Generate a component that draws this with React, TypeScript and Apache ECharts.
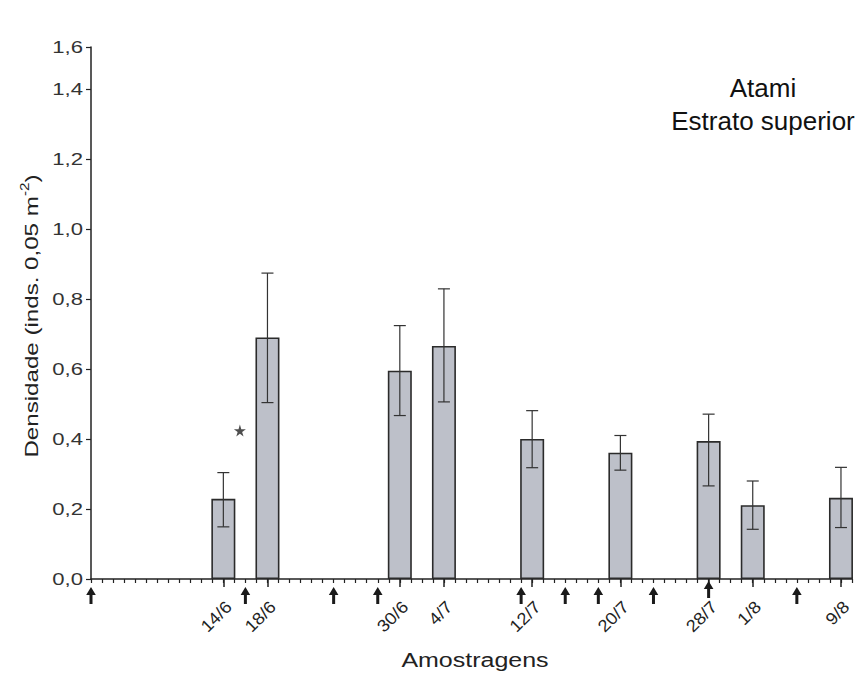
import React, { useEffect, useRef } from "react";
import * as echarts from "echarts";

// Sampling dates (day/month) with mean density and error-bar limits
const SAMPLE_DATES = ["14/6", "18/6", "30/6", "4/7", "12/7", "20/7", "28/7", "1/8", "9/8"];
const MEAN_DENSITY = [0.229, 0.69, 0.595, 0.666, 0.4, 0.361, 0.394, 0.211, 0.232];
const ERR_LOW = [0.149, 0.504, 0.467, 0.506, 0.318, 0.311, 0.266, 0.142, 0.147];
const ERR_HIGH = [0.304, 0.874, 0.724, 0.829, 0.481, 0.41, 0.471, 0.28, 0.319];

// Event markers drawn as arrows under the time axis
const ARROW_DATES = ["2/6", "16/6", "24/6", "28/6", "11/7", "15/7", "18/7", "23/7", "28/7", "5/8"];
const RAISED_ARROWS = ["28/7"];

// Significance mark between the first two samples
const STAR_MARK = { day: 13.5, value: 0.424 };

// Time axis range
const AXIS_START = "2/6";
const AXIS_END = "10/8";

// Density axis ticks (the top of the axis is labelled 1,6)
const Y_TICK_VALUES = [0, 0.2, 0.4, 0.6, 0.8, 1.0, 1.2, 1.4, 1.52];
const Y_TICK_LABELS = ["0,0", "0,2", "0,4", "0,6", "0,8", "1,0", "1,2", "1,4", "1,6"];

const Y_TITLE = "Densidade (inds. 0,05 m";
const Y_TITLE_SUP = "-2";
const Y_TITLE_END = ")";

const FONT = "'Liberation Sans', Arial, Helvetica, sans-serif";
const DAYS_BEFORE_MONTH: Record<number, number> = { 6: 0, 7: 30, 8: 61 };

function dayIndex(label: string): number {
  const [d, m] = label.split("/").map(Number);
  const [d0, m0] = AXIS_START.split("/").map(Number);
  return DAYS_BEFORE_MONTH[m] + d - (DAYS_BEFORE_MONTH[m0] + d0);
}

function textWidth(text: string, size: number): number {
  const ctx = document.createElement("canvas").getContext("2d");
  if (!ctx) return text.length * size * 0.55;
  ctx.font = `${size}px ${FONT}`;
  return ctx.measureText(text).width;
}

const STAR_PATH =
  "path://M50,0 L61,35 L98,35 L68,57 L79,91 L50,70 L21,91 L32,57 L2,35 L39,35 Z";

export default function App() {
  const ref = useRef<HTMLDivElement>(null);

  useEffect(() => {
    if (!ref.current) return;
    const chart = echarts.init(ref.current, undefined, { renderer: "svg" });

    const sampleDays = SAMPLE_DATES.map(dayIndex);
    const xMin = dayIndex(AXIS_START);
    const xMax = dayIndex(AXIS_END);

    // y-axis title: rotated, stretched along its length, with a superscript exponent
    const titleSize = 19;
    const supSize = 12;
    const stretch = 1.27;
    const wMain = textWidth(Y_TITLE, titleSize) * stretch;
    const wSup = textWidth(Y_TITLE_SUP, supSize) * stretch;
    const wEnd = textWidth(Y_TITLE_END, titleSize) * stretch;
    const total = wMain + wSup + wEnd;
    const titleX = 31;
    const titleStart = 316 + total / 2;

    const option: any = {
      animation: false,
      backgroundColor: "#ffffff",
      grid: { left: 91, right: 12, top: 47, bottom: 96, outerBoundsMode: "none" },
      xAxis: [
        {
          // daily minor ticks and the axis line
          type: "value",
          position: "bottom",
          min: xMin,
          max: xMax,
          interval: 1,
          axisLine: { show: true, onZero: false, lineStyle: { color: "#222", width: 1.5 } },
          axisTick: { show: true, length: 4, lineStyle: { color: "#222", width: 1.2 } },
          axisLabel: { show: false },
          splitLine: { show: false },
        },
        {
          // longer ticks on sampling days
          type: "value",
          position: "bottom",
          min: xMin,
          max: xMax,
          axisLine: { show: false, onZero: false },
          axisTick: {
            show: true,
            length: 8,
            customValues: sampleDays,
            lineStyle: { color: "#222", width: 1.5 },
          },
          axisLabel: { show: false },
          splitLine: { show: false },
        },
      ],
      yAxis: {
        type: "value",
        min: 0,
        max: Y_TICK_VALUES[Y_TICK_VALUES.length - 1],
        axisLine: { show: true, lineStyle: { color: "#222", width: 1.5 } },
        axisTick: {
          show: true,
          length: 5,
          customValues: Y_TICK_VALUES,
          lineStyle: { color: "#222", width: 1.2 },
        },
        axisLabel: { show: false },
        splitLine: { show: false },
      },
      graphic: [
        {
          type: "text",
          x: titleX,
          y: titleStart,
          rotation: Math.PI / 2,
          scaleX: stretch,
          style: {
            text: Y_TITLE,
            fontSize: titleSize,
            fontFamily: FONT,
            fill: "#222",
            align: "left",
            verticalAlign: "middle",
          },
        },
        {
          type: "text",
          x: titleX - 6,
          y: titleStart - wMain,
          rotation: Math.PI / 2,
          scaleX: stretch,
          style: {
            text: Y_TITLE_SUP,
            fontSize: supSize,
            fontFamily: FONT,
            fill: "#222",
            align: "left",
            verticalAlign: "middle",
          },
        },
        {
          type: "text",
          x: titleX,
          y: titleStart - wMain - wSup,
          rotation: Math.PI / 2,
          scaleX: stretch,
          style: {
            text: Y_TITLE_END,
            fontSize: titleSize,
            fontFamily: FONT,
            fill: "#222",
            align: "left",
            verticalAlign: "middle",
          },
        },
        {
          type: "text",
          x: 475,
          y: 660,
          scaleX: 1.25,
          style: {
            text: "Amostragens",
            fontSize: 20,
            fontFamily: FONT,
            fill: "#222",
            align: "center",
            verticalAlign: "middle",
          },
        },
        {
          type: "text",
          x: 763,
          y: 88,
          style: {
            text: "Atami",
            fontSize: 26,
            fontFamily: FONT,
            fill: "#111",
            align: "center",
            verticalAlign: "middle",
          },
        },
        {
          type: "text",
          x: 763,
          y: 121,
          style: {
            text: "Estrato superior",
            fontSize: 26,
            fontFamily: FONT,
            fill: "#111",
            align: "center",
            verticalAlign: "middle",
          },
        },
      ],
      series: [
        {
          type: "bar",
          xAxisIndex: 0,
          barWidth: 24,
          data: sampleDays.map((d, i) => [d, MEAN_DENSITY[i]]),
          itemStyle: { color: "#BDC0C9", borderColor: "#2b2b2b", borderWidth: 1.6 },
          z: 2,
        },
        {
          // error bars
          type: "custom",
          xAxisIndex: 0,
          z: 3,
          data: sampleDays.map((d, i) => [d, ERR_LOW[i], ERR_HIGH[i]]),
          encode: { x: 0, y: [1, 2] },
          renderItem: (_p: any, api: any) => {
            const x = api.value(0);
            const lo = api.coord([x, api.value(1)]);
            const hi = api.coord([x, api.value(2)]);
            const style = { stroke: "#333", lineWidth: 1.2 };
            const half = 6;
            return {
              type: "group",
              children: [
                { type: "line", shape: { x1: lo[0], y1: lo[1], x2: hi[0], y2: hi[1] }, style },
                { type: "line", shape: { x1: hi[0] - half, y1: hi[1], x2: hi[0] + half, y2: hi[1] }, style },
                { type: "line", shape: { x1: lo[0] - half, y1: lo[1], x2: lo[0] + half, y2: lo[1] }, style },
              ],
            };
          },
        },
        {
          // density tick labels beside the y axis
          type: "custom",
          xAxisIndex: 0,
          z: 4,
          clip: false,
          silent: true,
          data: Y_TICK_VALUES.map((v) => [xMin, v]),
          renderItem: (params: any, api: any) => {
            const p = api.coord([api.value(0), api.value(1)]);
            return {
              type: "text",
              x: p[0] - 8,
              y: p[1],
              scaleX: 1.3,
              style: {
                text: Y_TICK_LABELS[params.dataIndex],
                fontSize: 17,
                fontFamily: FONT,
                fill: "#333",
                align: "right",
                verticalAlign: "middle",
              },
            };
          },
        },
        {
          // rotated date labels under the sampling days
          type: "custom",
          xAxisIndex: 0,
          z: 4,
          clip: false,
          silent: true,
          data: sampleDays.map((d) => [d, 0]),
          renderItem: (params: any, api: any) => {
            const p = api.coord([api.value(0), 0]);
            return {
              type: "text",
              x: p[0] + 5.5,
              y: p[1] + 25,
              rotation: Math.PI / 4,
              scaleX: 1.08,
              style: {
                text: SAMPLE_DATES[params.dataIndex],
                fontSize: 17,
                fontFamily: FONT,
                fill: "#222",
                align: "right",
                verticalAlign: "middle",
              },
            };
          },
        },
        {
          // event arrows below the axis
          type: "custom",
          xAxisIndex: 0,
          z: 4,
          clip: false,
          data: ARROW_DATES.map((d) => [dayIndex(d), 0, RAISED_ARROWS.includes(d) ? 1 : 0]),
          renderItem: (_p: any, api: any) => {
            const p = api.coord([api.value(0), 0]);
            const x = p[0];
            const y0 = p[1] + (api.value(2) ? 2 : 8);
            const head = 4.8;
            const stem = 1.5;
            return {
              type: "polygon",
              shape: {
                points: [
                  [x, y0],
                  [x + head, y0 + 8],
                  [x + stem, y0 + 8],
                  [x + stem, y0 + 17],
                  [x - stem, y0 + 17],
                  [x - stem, y0 + 8],
                  [x - head, y0 + 8],
                ],
              },
              style: { fill: "#1a1a1a" },
            };
          },
        },
        {
          type: "scatter",
          xAxisIndex: 0,
          z: 4,
          symbol: STAR_PATH,
          symbolSize: 12,
          data: [[STAR_MARK.day, STAR_MARK.value]],
          itemStyle: { color: "#222" },
        },
      ],
    };

    chart.setOption(option);
    return () => chart.dispose();
  }, []);

  return (
    <div
      ref={ref}
      style={{ position: "fixed", left: 0, top: 0, width: 864, height: 675, background: "#fff" }}
    />
  );
}
